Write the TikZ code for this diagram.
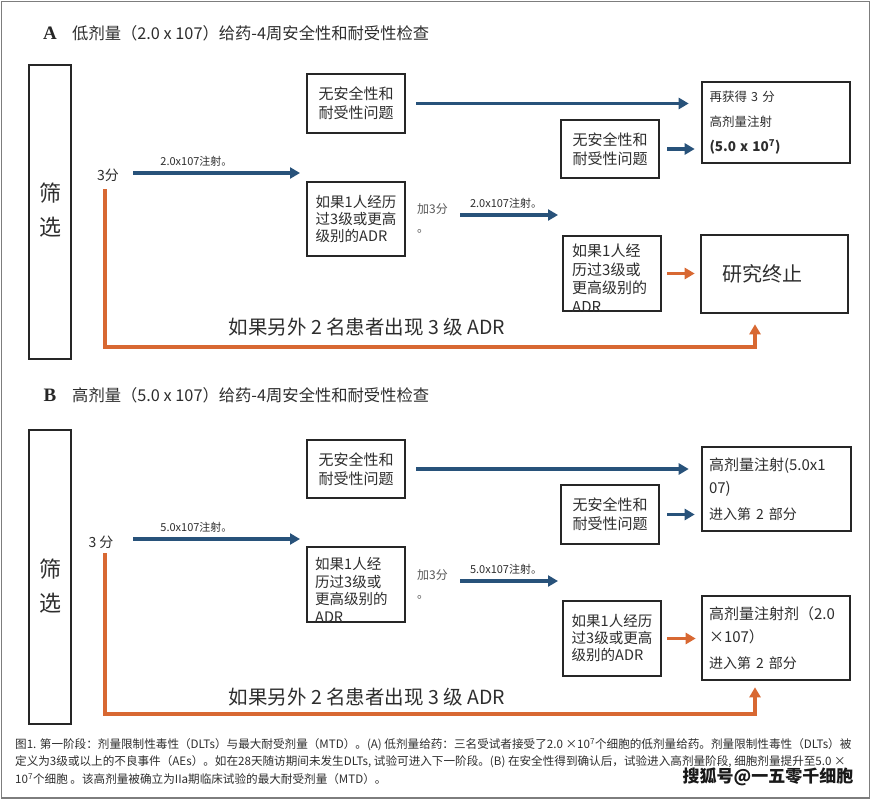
\documentclass[tikz,border=0pt]{standalone}
\usepackage{fontspec}
\setmainfont{Noto Sans CJK SC}
\newfontfamily\letterfont{Liberation Serif}
\usepackage{tikz}
\usetikzlibrary{positioning,arrows.meta}

\definecolor{flowblue}{RGB}{40,82,122}
\definecolor{haltorange}{RGB}{216,104,50}
\definecolor{inkgray}{RGB}{45,45,45}
\definecolor{framegray}{RGB}{125,125,125}

\begin{document}
\begin{tikzpicture}[
    x=1pt, y=-1pt,
    box/.style={
        rectangle,
        draw=black!85,
        line width=2.6pt,
        fill=white,
        inner sep=0pt,
        align=left,
        text=inkgray,
        font=\fontsize{15}{19}\selectfont
    },
    freetext/.style={
        inner sep=0pt,
        align=left,
        text=inkgray
    },
    flow/.style={
        -{Triangle[length=10pt,width=11pt]},
        line width=3.2pt,
        draw=flowblue
    },
    halt/.style={
        flow,
        draw=haltorange
    },
    dose/.style={freetext, font=\fontsize{11}{12}\selectfont, above=5pt},
    letter/.style={font=\letterfont\bfseries\fontsize{19}{19}\selectfont, text=black!85},
    heading/.style={freetext, anchor=west, font=\fontsize{16.3}{18}\selectfont},
    pts/.style={freetext, font=\fontsize{14}{16}\selectfont},
    addpts/.style={freetext, anchor=north west, font=\fontsize{12}{19}\selectfont, text=black!65},
    note/.style={freetext, font=\fontsize{19.5}{20}\selectfont},
    captext/.style={freetext, anchor=west, font=\fontsize{11.6}{12}\selectfont}
]
\useasboundingbox (0,0) rectangle (873,800);
\draw[framegray, line width=1.5pt] (1.5,1.5) rectangle (869.5,798);

% ---------- Part A: low dose ----------
\node[letter] (letA) at (50,33) {A};
\node[heading] (headA) at (72,33) {低剂量（2.0 x 107）给药-4周安全性和耐受性检查};

\node[box, minimum width=42pt, minimum height=294pt] (scrA) at (50,212) {};
\node[freetext, align=center, font=\fontsize{22}{34}\selectfont] (scrAtxt) at (50,210) {筛\\选};

\node[pts] (ptsA) at (108,175) {3分};
\node[box, minimum width=98pt, minimum height=59pt] (nsA1) at (356,103.5) {无安全性和\\耐受性问题};
\node[box, minimum width=98pt, minimum height=74pt, font=\fontsize{14.5}{17}\selectfont] (adrA1) at (356,219) {如果1人经历\\过3级或更高\\级别的ADR};
\node[addpts] (addA) at (417,203) {加3分\\。};

\node[box, minimum width=98pt, minimum height=58pt] (nsA2) at (610,149) {无安全性和\\耐受性问题};
\node[box, minimum width=148pt, minimum height=81pt, text width=133pt, font=\fontsize{12.5}{25}\selectfont] (moreA) at (776,122.5)
    {再获得 3 分\\高剂量注射\\{\bfseries\fontsize{13.5}{25}\selectfont (5.0 x 10\textsuperscript{7})}};

% box whose text runs over its lower edge
\node[box, minimum width=98pt, minimum height=75pt] (adrA2) at (612,273.5) {};
\node[freetext, anchor=north west, font=\fontsize{15}{18.5}\selectfont] (adrA2txt) at (572,244) {如果1人经\\历过3级或\\更高级别的\\ADR};
\node[box, minimum width=147pt, minimum height=78pt, text width=104pt, font=\fontsize{20}{24}\selectfont] (stopA) at (774.5,274) {研究终止};

\coordinate (injA0) at (133,173);
\coordinate (injA1) at (300,173);
\coordinate (injA2) at (460,215);
\coordinate (injA3) at (558,215);
\coordinate (orgA) at (105,189);
\coordinate (turnA) at (755,347);

\draw[flow] (injA0) -- node[dose, pos=0.38] {2.0x107注射。} (injA1);
\draw[flow, shorten <=10pt, shorten >=12pt] (nsA1.east) -- (nsA1.east -| moreA.west);
\draw[flow] (injA2) -- node[dose, pos=0.47] {2.0x107注射。} (injA3);
\draw[flow, shorten <=7pt, shorten >=6pt] (nsA2.east) -- (nsA2.east -| moreA.west);
\draw[halt, shorten <=5pt, shorten >=5pt] (adrA2.east) -- (adrA2.east -| stopA.west);

% second patient group with ADR
\draw[halt, shorten >=10pt] (orgA) |- (turnA) -- (turnA |- stopA.south);
\node[note] (noteA) at (367,327) {如果另外 2 名患者出现 3 级 ADR};

% ---------- Part B: high dose ----------
\node[letter] (letB) at (50,395) {B};
\node[heading] (headB) at (72,395) {高剂量（5.0 x 107）给药-4周安全性和耐受性检查};

\node[box, minimum width=42pt, minimum height=294pt] (scrB) at (50,577) {};
\node[freetext, align=center, font=\fontsize{22}{34}\selectfont] (scrBtxt) at (50,586) {筛\\选};

\node[pts] (ptsB) at (101,542) {3 分};
\node[box, minimum width=98pt, minimum height=58pt] (nsB1) at (356,469) {无安全性和\\耐受性问题};

\node[box, minimum width=98pt, minimum height=75pt] (adrB1) at (356,584.5) {};
\node[freetext, anchor=north west, font=\fontsize{14.5}{17.7}\selectfont] (adrB1txt) at (315,557) {如果1人经\\历过3级或\\更高级别的\\ADR};
\node[addpts] (addB) at (417,569) {加3分\\。};

\node[box, minimum width=98pt, minimum height=59pt] (nsB2) at (610,514.5) {无安全性和\\耐受性问题};
\node[box, minimum width=149pt, minimum height=84pt, text width=135pt, font=\fontsize{15}{23}\selectfont] (onB1) at (776.5,489)
    {高剂量注射(5.0x1\\07)\\[3pt]{\fontsize{14}{23}\selectfont 进入第 2 部分}};

\node[box, minimum width=98pt, minimum height=75pt, font=\fontsize{14.5}{17}\selectfont] (adrB2) at (612,638.5) {如果1人经历\\过3级或更高\\级别的ADR};
\node[box, minimum width=148pt, minimum height=84pt, text width=134pt, font=\fontsize{15}{23}\selectfont] (onB2) at (776,638)
    {高剂量注射剂（2.0\\×107）\\[3pt]{\fontsize{14}{23}\selectfont 进入第 2 部分}};

\coordinate (injB0) at (133,539);
\coordinate (injB1) at (300,539);
\coordinate (injB2) at (460,581);
\coordinate (injB3) at (558,581);
\coordinate (orgB) at (105,553);
\coordinate (turnB) at (755,714);

\draw[flow] (injB0) -- node[dose, pos=0.38] {5.0x107注射。} (injB1);
\draw[flow, shorten <=10pt, shorten >=12pt] (nsB1.east) -- (nsB1.east -| onB1.west);
\draw[flow] (injB2) -- node[dose, pos=0.47] {5.0x107注射。} (injB3);
\draw[flow, shorten <=7pt, shorten >=6pt] (nsB2.east) -- (nsB2.east -| onB1.west);
\draw[halt, shorten <=5pt, shorten >=5pt] (adrB2.east) -- (adrB2.east -| onB2.west);

\draw[halt, shorten >=6pt] (orgB) |- (turnB) -- (turnB |- onB2.south);
\node[note] (noteB) at (367,697) {如果另外 2 名患者出现 3 级 ADR};

% ---------- caption ----------
\node[captext] (capL1) at (15,745) {图1. 第一阶段：剂量限制性毒性（DLTs）与最大耐受剂量（MTD）。(A) 低剂量给药：三名受试者接受了2.0 ×10\textsuperscript{7}个细胞的低剂量给药。剂量限制性毒性（DLTs）被};
\node[captext] (capL2) at (15,762) {定义为3级或以上的不良事件（AEs）。如在28天随访期间未发生DLTs, 试验可进入下一阶段。(B) 在安全性得到确认后，试验进入高剂量阶段, 细胞剂量提升至5.0 ×};
\node[captext] (capL3) at (15,779) {10\textsuperscript{7}个细胞 。该高剂量被确立为IIa期临床试验的最大耐受剂量（MTD）。};
\node[freetext, font=\bfseries\fontsize{17}{17}\selectfont, text=black!90] (mark) at (768,777) {搜狐号@一五零千细胞};

\end{tikzpicture}
\end{document}
